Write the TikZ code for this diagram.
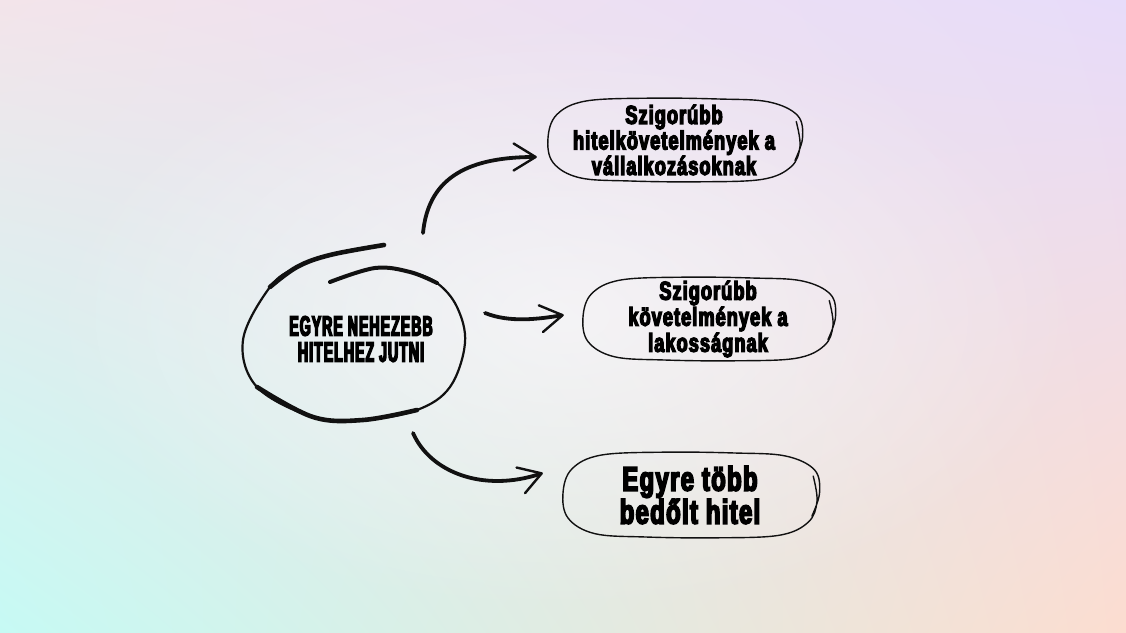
\documentclass[tikz,border=0pt]{standalone}
\usepackage{fontspec}
\usepackage{tikz}
\usetikzlibrary{arrows.meta,calc,shapes.geometric,fadings,shadings}
\newfontfamily\capsfont{Liberation Sans}[UprightFont={* Bold},FakeStretch=0.50,FakeBold=5,LetterSpace=4]
\newfontfamily\leaffont{Liberation Sans}[UprightFont={* Bold},FakeStretch=0.70,FakeBold=5,LetterSpace=4]
\definecolor{bgtl}{RGB}{243,228,234}
\definecolor{bgtr}{RGB}{231,220,250}
\definecolor{bgbl}{RGB}{198,250,244}
\definecolor{bgbr}{RGB}{252,221,208}
\definecolor{ink}{RGB}{17,17,17}
\tikzfading[name=glow,inner color=transparent!0,outer color=transparent!100]

\begin{document}
\begin{tikzpicture}[x=1pt,y=1pt, >={Straight Barb[length=22pt,width=27pt,line width=2.4pt,round]}]
  \tikzset{
    hub/.style={ellipse,align=center,inner sep=0,minimum width=228,minimum height=175,
      font=\capsfont\fontsize{28}{26}\selectfont},
    leaf/.style={rectangle,align=center,inner sep=0,minimum width=252,minimum height=82,
      font=\leaffont\fontsize{26}{24}\selectfont},
    rim/.style={ink,line width=1.4pt,line cap=round,line join=round},
    stroke/.style={ink,line width=3.8pt,line cap=round,->},
  }
  \useasboundingbox (0,0) rectangle (1126,632);

  % ===== background =====
  \shade[upper left=bgtl,upper right=bgtr,lower left=bgbl,lower right=bgbr] (0,0) rectangle (1126,632);
  \fill[white,path fading=glow,opacity=0.55] (563,316) ellipse (520 and 300);

  % ===== nodes =====
  \node[hub] (c) at (361,293) {EGYRE NEHEZEBB\\HITELHEZ JUTNI};
  \node[leaf] (b1) at (674,492) {Szigorúbb\\hitelkövetelmények a\\vállalkozásoknak};
  \node[leaf,font=\leaffont\fontsize{26}{26}\selectfont] (b2) at (708,313) {Szigorúbb\\követelmények a\\lakosságnak};
  \node[leaf,font=\leaffont\fontsize{34}{33}\selectfont] (b3) at (690,137) {Egyre több\\bedőlt hitel};

  % ===== hand drawn loop round the hub =====
  \draw[rim,line width=2.2pt] plot[smooth,tension=0.6] coordinates {(384,387) (330,377) (297,365) (270,345)
    (243,292) (257,245) (313,215) (363,212) (417,222) (450,245) (465,289) (457,325) (437,349) (410,360) (375,364) (330,350)};
  \draw[rim,line width=4.6pt] plot[smooth,tension=0.6] coordinates {(384,387) (330,377) (297,365) (270,345)};
  \draw[rim,line width=4.6pt] plot[smooth,tension=0.6] coordinates {(257,245) (313,215) (363,212) (417,222)};
  \draw[rim,line width=4pt] plot[smooth,tension=0.6] coordinates {(437,349) (410,360) (375,364) (330,350)};

  % ===== rough outlines of the leaves =====
  \foreach \n/\a/\b in {b1/126/41, b2/125/41, b3/127/42}{
    \draw[rim] plot[smooth,tension=0.6] coordinates {
      ($(\n)+({0.97*\a},{0.45*\b})$) ($(\n)+({1.00*\a},{-0.15*\b})$) ($(\n)+({0.93*\a},{-0.65*\b})$)
      ($(\n)+({0.70*\a},{-0.96*\b})$) ($(\n)+({0.20*\a},{-1.02*\b})$) ($(\n)+({-0.35*\a},{-1.00*\b})$)
      ($(\n)+({-0.75*\a},{-0.92*\b})$) ($(\n)+({-0.96*\a},{-0.55*\b})$) ($(\n)+({-1.00*\a},{0.05*\b})$)
      ($(\n)+({-0.93*\a},{0.62*\b})$) ($(\n)+({-0.70*\a},{0.95*\b})$) ($(\n)+({-0.20*\a},{1.02*\b})$)
      ($(\n)+({0.35*\a},{1.00*\b})$) ($(\n)+({0.75*\a},{0.93*\b})$) ($(\n)+({0.98*\a},{0.60*\b})$)
      ($(\n)+({1.02*\a},{0.05*\b})$) ($(\n)+({0.96*\a},{-0.50*\b})$)};
  }

  % ===== connectors =====
  \draw[stroke] ($(c)+(62,106)$) .. controls +(5,51) and +(-75,0) .. ($(b1.west)+(-11,-17)$);
  \draw[stroke] ($(c)+(124,26)$) .. controls +(25,-10) and +(-25,-4) .. ($(b2.west)+(-18,4)$);
  \draw[stroke] ($(c)+(52,-94)$) .. controls +(17,-39) and +(-60,-20) .. ($(b3.west)+(-21,22)$);
\end{tikzpicture}
\end{document}
